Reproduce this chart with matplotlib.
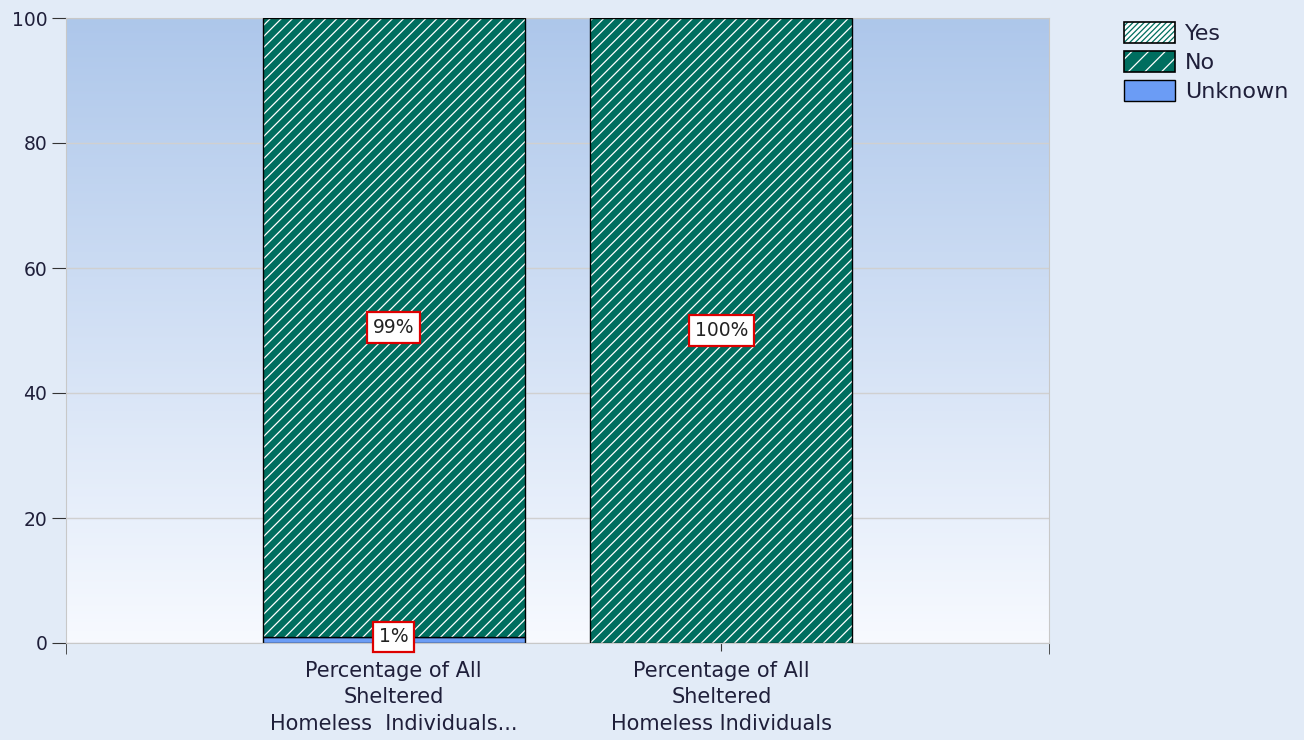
import numpy as np
import matplotlib.pyplot as plt
from matplotlib.patches import Patch
from matplotlib.legend_handler import HandlerTuple

categories = ["Percentage of All\nSheltered\nHomeless  Individuals...",
              "Percentage of All\nSheltered\nHomeless Individuals"]
unknown = [1, 0]
no = [99, 100]
yes = [0, 0]
series_names = ["Yes", "No", "Unknown"]

green = "#006e5f"
blue = "#6b9cf5"

plt.rcParams['hatch.linewidth'] = 0.9

fig = plt.figure(figsize=(13.04, 7.40), dpi=100)
fig.patch.set_facecolor("#e2ebf7")
ax = fig.add_axes([66 / 1304, 1 - 643 / 740, (1049 - 66) / 1304, (643 - 18) / 740])

# vertical gradient for the plot area (top row first)
grad = np.linspace(0, 1, 256).reshape(-1, 1)
top = np.array([0.68, 0.78, 0.92])
bot = np.array([0.97, 0.98, 1.0])
img = top + (bot - top) * grad[:, :, None] * np.ones((1, 1, 3))
ax.imshow(img, extent=(-1, 2, 0, 100), aspect="auto", zorder=0)

x = np.arange(len(categories))
w = 0.8
ax.bar(x, unknown, w, color=blue, edgecolor="black", linewidth=1, zorder=2)
ax.bar(x, no, w, bottom=unknown, color=green, edgecolor="white", linewidth=0,
       hatch="///", zorder=2)
ax.bar(x, no, w, bottom=unknown, fill=False, edgecolor="black", linewidth=1, zorder=3)

box = dict(boxstyle="square,pad=0.3", facecolor="white", edgecolor="#dd0000", linewidth=1.6)
for i in range(len(categories)):
    if no[i] > 0:
        ax.text(x[i], unknown[i] + no[i] / 2, f"{no[i]}%", ha="center", va="center",
                fontsize=13.5, color="#222222", bbox=box, zorder=5)
    if unknown[i] > 0:
        ax.text(x[i], unknown[i], f"{unknown[i]}%", ha="center", va="center",
                fontsize=13.5, color="#222222", bbox=box, zorder=5)

ax.set_xlim(-1, 2)
ax.set_ylim(0, 100)
ax.set_yticks([0, 20, 40, 60, 80, 100])
ax.yaxis.grid(True, color="#d0d0d0", linewidth=1, zorder=1)
ax.set_axisbelow(True)
ax.set_xticks(x)
ax.set_xticklabels(categories, fontsize=15, color="#1f1f3a", linespacing=1.4)
ax.set_xticks([-1, 2], minor=True)
ax.tick_params(axis="x", which="major", length=6, color="#333333", pad=7)
ax.tick_params(axis="x", which="minor", length=8, color="#333333")
ax.tick_params(axis="y", length=10, color="#333333", labelsize=13.5, labelcolor="#1f1f3a")
for s in ax.spines.values():
    s.set_color("#c8c8c8")

handles = [
    Patch(facecolor="white", edgecolor=green, hatch="//////", linewidth=0),
    Patch(facecolor=green, edgecolor="white", hatch="//", linewidth=0),
    Patch(facecolor=blue, edgecolor="black", linewidth=1),
]
frame = Patch(fill=False, edgecolor="black", linewidth=1.2)
leg = fig.legend([(handles[0], frame), (handles[1], frame), handles[2]], series_names,
                 handler_map={tuple: HandlerTuple(ndivide=1, pad=0)},
                 loc="upper left", bbox_to_anchor=(1104 / 1304, 1 - 2 / 740),
                 frameon=False, fontsize=16, handlelength=2.3, handleheight=1.1,
                 labelspacing=0.3, handletextpad=0.45, labelcolor="#1f1f3a")

fig.savefig("out.png", dpi=100, facecolor=fig.get_facecolor())
